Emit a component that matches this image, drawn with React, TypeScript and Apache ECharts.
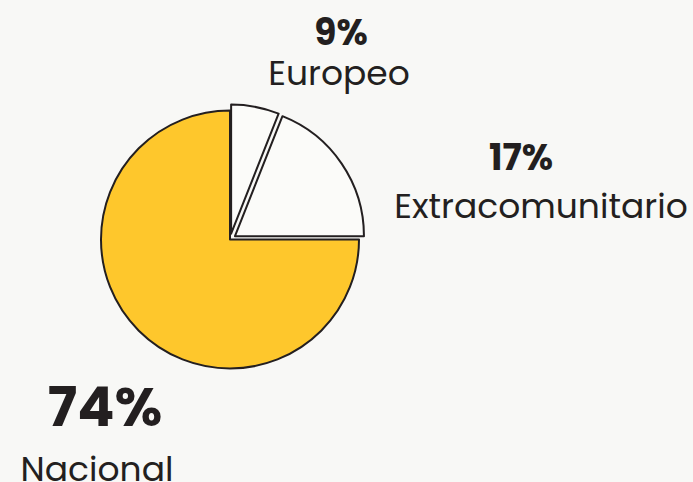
import React, { useEffect, useRef } from "react";
import * as echarts from "echarts";

// Data
const categories = ["Europeo", "Extracomunitario", "Nacional"];
const shareLabels = ["9%", "17%", "74%"];
// angular share of each slice as drawn
const sliceValues = [6, 19, 75];

// Styles (kept apart from the data)
const sliceColors = ["#FBFBF9", "#FBFBF9", "#FEC72C"];
const exploded = [true, true, false];
const labelAnchors = [
  { x: 339, y: 54 },
  { x: 541, y: 184 },
  { x: 97, y: 436 },
];
const labelRich = [
  {
    p: { fontSize: 36, fontWeight: 700, lineHeight: 38, padding: [0, 0, 0, 4] },
    n: { fontSize: 34.5, fontWeight: 400, lineHeight: 44 },
  },
  {
    p: { fontSize: 36, fontWeight: 700, lineHeight: 44, padding: [0, 40, 0, 0] },
    n: { fontSize: 34.5, fontWeight: 400, lineHeight: 54 },
  },
  {
    p: { fontSize: 55, fontWeight: 700, lineHeight: 66, padding: [0, 0, 0, 16] },
    n: { fontSize: 34.5, fontWeight: 400, lineHeight: 60 },
  },
];

const FONT = "Poppins, Inter, 'Noto Sans', sans-serif";
const INK = "#231F20";
const BG = "#F8F8F6";
const CENTER = [230, 239.5];
const RADIUS = 129;

export default function App() {
  const ref = useRef<HTMLDivElement>(null);

  useEffect(() => {
    document.body.style.margin = "0";
    document.body.style.background = BG;
    if (!ref.current) return;
    const chart = echarts.init(ref.current, undefined, { renderer: "svg" });

    const sliceData = categories.map((name, i) => ({
      name,
      value: sliceValues[i],
      selected: exploded[i],
      itemStyle: { color: sliceColors[i] },
      select: { itemStyle: { color: sliceColors[i], borderColor: INK, borderWidth: 2 } },
    }));

    const labelData = categories.map((name, i) => ({
      name,
      value: sliceValues[i],
      label: {
        formatter: `{p|${shareLabels[i]}}\n{n|${name}}`,
        rich: {
          p: { ...labelRich[i].p, color: INK, fontFamily: FONT, align: "center" },
          n: { ...labelRich[i].n, color: INK, fontFamily: FONT, align: "center" },
        },
      },
    }));

    chart.setOption({
      animation: false,
      backgroundColor: BG,
      series: [
        {
          type: "pie",
          center: CENTER,
          radius: [0, RADIUS],
          startAngle: 90,
          clockwise: true,
          selectedMode: "multiple",
          selectedOffset: 6,
          itemStyle: { borderColor: INK, borderWidth: 2 },
          emphasis: { disabled: true },
          label: { show: false },
          labelLine: { show: false },
          data: sliceData,
        },
        {
          type: "pie",
          silent: true,
          center: CENTER,
          radius: [0, RADIUS],
          startAngle: 90,
          clockwise: true,
          selectedMode: false,
          avoidLabelOverlap: false,
          itemStyle: { color: "rgba(0,0,0,0)", borderWidth: 0 },
          emphasis: { disabled: true },
          label: { show: true, position: "outside", color: INK, fontFamily: FONT },
          labelLine: { show: false },
          labelLayout: (params: any) => ({
            x: labelAnchors[params.dataIndex].x,
            y: labelAnchors[params.dataIndex].y,
            align: "center",
            verticalAlign: "middle",
          }),
          data: labelData,
        },
      ],
    });

    return () => chart.dispose();
  }, []);

  return <div ref={ref} style={{ width: 693, height: 482, background: BG }} />;
}
